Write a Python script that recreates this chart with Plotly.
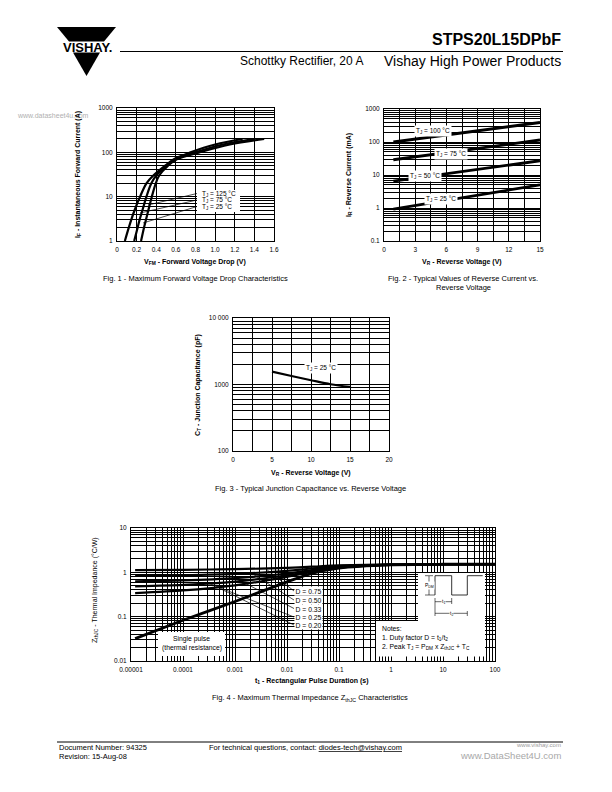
import plotly.graph_objects as go

W, H = 612, 792
FONT = "Liberation Sans, Arial, sans-serif"

# ---------------- data ----------------
# Fig. 1 - forward voltage drop
fig1_current_A = [1, 2, 3, 5, 10, 20, 30, 50, 70, 100, 150, 200]
fig1_vf_125C = [0.08, 0.12, 0.145, 0.18, 0.235, 0.30, 0.37, 0.49, 0.58, 0.75, 1.00, 1.28]
fig1_vf_75C = [0.175, 0.21, 0.23, 0.26, 0.30, 0.35, 0.40, 0.505, 0.595, 0.80, 1.08, 1.40]
fig1_vf_25C = [0.245, 0.275, 0.295, 0.32, 0.355, 0.395, 0.43, 0.52, 0.61, 0.84, 1.15, 1.50]
fig1_x_ticklabels = ["0", "0.2", "0.4", "0.6", "0.8", "1.0", "1.2", "1.4", "1.6"]
fig1_y_ticklabels = ["1", "10", "100", "1000"]

# Fig. 2 - reverse current
fig2_vr = [0.9, 15]
fig2_ir_100C = [100, 390]
fig2_ir_75C = [29, 115]
fig2_ir_50C = [6.5, 27]
fig2_ir_25C = [0.93, 5.0]
fig2_x_ticklabels = ["0", "3", "6", "9", "12", "15"]
fig2_y_ticklabels = ["0.1", "1", "10", "100", "1000"]

# Fig. 3 - junction capacitance
fig3_vr = [5, 7.5, 10, 12.5, 15]
fig3_ct = [1560, 1340, 1160, 1010, 920]
fig3_x_ticklabels = ["0", "5", "10", "15", "20"]
fig3_y_ticklabels = ["100", "1000", "10 000"]

# Fig. 4 - thermal impedance
fig4_t = [1.2e-5, 1e-4, 1e-3, 1e-2, 3e-2, 0.1, 1, 10, 100]
fig4_single = [0.032, 0.083, 0.22, 0.61, 0.95, 1.25, 1.48, 1.52, 1.52]
fig4_d075 = [1.12, 1.14, 1.18, 1.26, 1.34, 1.44, 1.50, 1.52, 1.52]
fig4_d050 = [0.83, 0.86, 0.92, 1.08, 1.22, 1.38, 1.49, 1.52, 1.52]
fig4_d033 = [0.63, 0.66, 0.74, 0.94, 1.12, 1.33, 1.49, 1.52, 1.52]
fig4_d025 = [0.48, 0.52, 0.62, 0.86, 1.06, 1.30, 1.48, 1.52, 1.52]
fig4_d020 = [0.34, 0.39, 0.51, 0.79, 1.02, 1.28, 1.48, 1.52, 1.52]
fig4_d_labels = ["D = 0.75", "D = 0.50", "D = 0.33", "D = 0.25", "D = 0.20"]
fig4_x_ticklabels = ["0.00001", "0.0001", "0.001", "0.01", "0.1", "1", "10", "100"]
fig4_y_ticklabels = ["0.01", "0.1", "1", "10"]


# ---------------- helpers ----------------
def px(x):
    return x / W


def py(y):
    return 1 - y / H


def log_ticks(lo, hi):
    major = [10.0 ** e for e in range(lo, hi + 1)]
    minor = [m * 10.0 ** e for e in range(lo, hi) for m in range(2, 10)]
    return major, minor


def lin_ticks(start, stop, step, label_every):
    n = int(round((stop - start) / step))
    vals = [start + i * step for i in range(n + 1)]
    major = [v for i, v in enumerate(vals) if i % label_every == 0]
    minor = [v for i, v in enumerate(vals) if i % label_every != 0]
    return major, minor


TICKFONT = dict(family=FONT, size=6.5, color="black")


def axis(domain, anchor, ticks, labels, typ="linear", rng=None):
    major, minor = ticks
    return dict(domain=domain, anchor=anchor, type=typ, range=rng,
                tickmode="array", tickvals=major, ticktext=labels,
                showgrid=True, gridcolor="black", gridwidth=1,
                minor=dict(tickmode="array", tickvals=minor, showgrid=True,
                           gridcolor="black", gridwidth=1, ticks=""),
                showline=True, mirror=True, linecolor="black", linewidth=1,
                ticks="", tickfont=TICKFONT, zeroline=False, automargin=False,
                fixedrange=True, ticklabelstandoff=2)


def dom_x(x0, x1):
    return [px(x0), px(x1)]


def dom_y(y0, y1):
    return [py(y1), py(y0)]


fig = go.Figure()

# Fig 1 traces
for v in (fig1_vf_125C, fig1_vf_75C, fig1_vf_25C):
    fig.add_trace(go.Scatter(x=v, y=fig1_current_A, mode="lines",
                             line=dict(color="black", width=2.2, shape="spline"),
                             xaxis="x", yaxis="y", showlegend=False))
# Fig 2 traces
for ir in (fig2_ir_100C, fig2_ir_75C, fig2_ir_50C, fig2_ir_25C):
    fig.add_trace(go.Scatter(x=fig2_vr, y=ir, mode="lines", line=dict(color="black", width=2.8),
                             xaxis="x2", yaxis="y2", showlegend=False))
# Fig 3 trace
fig.add_trace(go.Scatter(x=fig3_vr, y=fig3_ct, mode="lines",
                         line=dict(color="black", width=2.2, shape="spline"),
                         xaxis="x3", yaxis="y3", showlegend=False))
# Fig 4 traces
for z in (fig4_d075, fig4_d050, fig4_d033, fig4_d025, fig4_d020):
    fig.add_trace(go.Scatter(x=fig4_t, y=z, mode="lines",
                             line=dict(color="black", width=2.2, shape="spline", smoothing=0.6),
                             xaxis="x4", yaxis="y4", showlegend=False))
fig.add_trace(go.Scatter(x=fig4_t, y=fig4_single, mode="lines",
                         line=dict(color="black", width=2.8, shape="spline", smoothing=0.6),
                         xaxis="x4", yaxis="y4", showlegend=False))

# axes
xa1 = axis(dom_x(117, 274), "y", lin_ticks(0, 1.6, 0.2, 1), fig1_x_ticklabels, rng=[0, 1.6])
ya1 = axis(dom_y(108, 241), "x", log_ticks(0, 3), fig1_y_ticklabels, "log", [0, 3])
xa2 = axis(dom_x(384, 540), "y2", lin_ticks(0, 15, 1.5, 2), fig2_x_ticklabels, rng=[0, 15])
ya2 = axis(dom_y(109, 241), "x2", log_ticks(-1, 3), fig2_y_ticklabels, "log", [-1, 3])
xa3 = axis(dom_x(233, 389), "y3", lin_ticks(0, 20, 2.5, 2), fig3_x_ticklabels, rng=[0, 20])
ya3 = axis(dom_y(318, 451), "x3", log_ticks(2, 4), fig3_y_ticklabels, "log", [2, 4])
xa4 = axis(dom_x(131, 495), "y4", log_ticks(-5, 2), fig4_x_ticklabels, "log", [-5, 2])
ya4 = axis(dom_y(528, 661), "x4", log_ticks(-2, 1), fig4_y_ticklabels, "log", [-2, 1])

fig.update_layout(
    template="none",
    width=W, height=H, autosize=False,
    margin=dict(l=0, r=0, t=0, b=0, pad=0, autoexpand=False),
    paper_bgcolor="white", plot_bgcolor="white", showlegend=False,
    font=dict(family=FONT, color="black"),
    xaxis=xa1, yaxis=ya1, xaxis2=xa2, yaxis2=ya2,
    xaxis3=xa3, yaxis3=ya3, xaxis4=xa4, yaxis4=ya4,
)

shapes = []
ann = []


def T(x, y, text, size=7.5, xanchor="center", bold=False, color="black", angle=0, bg=None,
      yanchor="middle", pad=1):
    if bold:
        text = "<b>" + text + "</b>"
    d = dict(xref="paper", yref="paper", x=px(x), y=py(y), text=text, showarrow=False,
             font=dict(family=FONT, size=size, color=color), xanchor=xanchor, yanchor=yanchor,
             textangle=angle, borderpad=pad)
    if bg:
        d["bgcolor"] = bg
    ann.append(d)


def L(x0, y0, x1, y1, w=0.8, color="black"):
    shapes.append(dict(type="line", xref="paper", yref="paper", x0=px(x0), y0=py(y0),
                       x1=px(x1), y1=py(y1), line=dict(color=color, width=w), layer="above"))


def R(x0, y0, x1, y1, fill="white"):
    shapes.append(dict(type="rect", xref="paper", yref="paper", x0=px(x0), y0=py(y0),
                       x1=px(x1), y1=py(y1), fillcolor=fill, line=dict(width=0), layer="above"))


def P(points, fill="black"):
    path = "M " + " L ".join(f"{px(a):.5f},{py(b):.5f}" for a, b in points) + " Z"
    shapes.append(dict(type="path", xref="paper", yref="paper", path=path, fillcolor=fill,
                       line=dict(width=0), layer="above"))


# ---------------- header ----------------
P([(57, 27), (116, 27), (104, 41.5), (69, 41.5)])
P([(73, 52.5), (100, 52.5), (86.5, 76)])
T(87, 47, "VISHAY.", size=13, bold=True)
T(563, 40, "STPS20L15DPbF", size=16, xanchor="right", bold=True)
L(120, 51.5, 563, 51.5, w=1)
T(365, 61, "Schottky Rectifier, 20 A", size=12, xanchor="right")
T(563, 61.5, "Vishay High Power Products", size=14, xanchor="right")

# watermark
T(15, 116, "www.datasheet4u.com", size=7, xanchor="left", color="#b0b0b0")

# ---------------- Fig 1 annotations ----------------
R(197, 190, 240, 212)
T(200, 194, "T<sub>J</sub> = 125 °C", size=6.5, xanchor="left")
T(200, 200.5, "T<sub>J</sub> = 75 °C", size=6.5, xanchor="left")
T(200, 207, "T<sub>J</sub> = 25 °C", size=6.5, xanchor="left")
L(197, 193.5, 148, 205, w=0.7)
L(197, 200, 140, 213, w=0.7)
L(197, 206.5, 143, 223, w=0.7)
T(195, 262, "V<sub>FM</sub> - Forward Voltage Drop (V)", size=7, bold=True)
T(78, 175, "I<sub>F</sub> - Instantaneous Forward Current (A)", size=7, bold=True, angle=-90)
T(195, 278, "Fig. 1 - Maximum Forward Voltage Drop Characteristics", size=7.5)

# ---------------- Fig 2 annotations ----------------
T(433, 131, "T<sub>J</sub> = 100 °C", size=6.5, bg="white")
T(451, 154, "T<sub>J</sub> = 75 °C", size=6.5, bg="white")
T(425, 176, "T<sub>J</sub> = 50 °C", size=6.5, bg="white")
T(441, 199, "T<sub>J</sub> = 25 °C", size=6.5, bg="white")
T(462, 262, "V<sub>R</sub> - Reverse Voltage (V)", size=7, bold=True)
T(349, 175, "I<sub>R</sub> - Reverse Current (mA)", size=7, bold=True, angle=-90)
T(463, 278, "Fig. 2 - Typical Values of Reverse Current vs.", size=7.5)
T(463, 287, "Reverse Voltage", size=7.5)

# ---------------- Fig 3 annotations ----------------
T(321, 368, "T<sub>J</sub> = 25 °C", size=6.5, bg="white")
T(311, 473, "V<sub>R</sub> - Reverse Voltage (V)", size=7, bold=True)
T(198, 385, "C<sub>T</sub> - Junction Capacitance (pF)", size=7, bold=True, angle=-90)
T(310, 488, "Fig. 3 - Typical Junction Capacitance vs. Reverse Voltage", size=7.5)

# ---------------- Fig 4 annotations ----------------
label_y = [591, 600, 608.5, 617, 625]
leader_end = [(266, 569), (251, 573), (235, 578), (208, 583), (219, 588)]
for lab, yy, (ex, ey) in zip(fig4_d_labels, label_y, leader_end):
    L(294, yy, ex, ey, w=0.7)
    T(294, yy, lab, size=6.8, xanchor="left", bg="white", pad=0.5)
R(158, 632, 225, 656)
T(191.5, 638.5, "Single pulse", size=6.8)
T(191.5, 647.5, "(thermal resistance)", size=6.8)
# notes + pulse diagram
R(418, 573, 485, 622)
R(376, 621, 485, 656.5)
T(380, 628, "Notes:", size=6.8, xanchor="left")
T(380, 638, "1. Duty factor D = t<sub>1</sub>/t<sub>2</sub>", size=6.8, xanchor="left")
T(380, 647, "2. Peak T<sub>J</sub> = P<sub>DM</sub> x Z<sub>thJC</sub> + T<sub>C</sub>", size=6.8, xanchor="left")
# pulse waveform
L(435, 595, 435, 575.7)
L(435, 575.7, 451.7, 575.7)
L(451.7, 575.7, 451.7, 595)
L(451.7, 595, 467.3, 595)
L(467.3, 595, 467.3, 575.7)
L(467.3, 575.7, 482.7, 575.7)
L(425, 575.7, 433, 575.7, w=0.6)
L(425, 595, 435, 595, w=0.6)
L(429, 576, 429, 595, w=0.6)
T(429.3, 585.5, "P<sub>DM</sub>", size=5, bg="white", pad=0)
L(435, 601.7, 451.7, 601.7, w=0.6)
L(435, 598, 435, 616, w=0.6)
L(451.7, 598, 451.7, 604, w=0.6)
T(443.3, 601.2, "t<sub>1</sub>", size=5, bg="white", pad=0)
L(435, 613.3, 467.3, 613.3, w=0.6)
L(467.3, 611, 467.3, 616, w=0.6)
T(451, 613, "t<sub>2</sub>", size=5, bg="white", pad=0)

T(312, 681, "t<sub>1</sub> - Rectangular Pulse Duration (s)", size=7, bold=True)
T(95, 590, "Z<sub>thJC</sub> - Thermal Impedance (°C/W)", size=7, angle=-90)
T(310, 698, "Fig. 4 - Maximum Thermal Impedance Z<sub>thJC</sub> Characteristics", size=7.5)

# ---------------- footer ----------------
L(57, 742, 563, 742, w=1)
T(57, 747.5, "Document Number: 94325", size=7.5, xanchor="left")
T(57, 756.5, "Revision: 15-Aug-08", size=7.5, xanchor="left")
T(207, 747.5, "For technical questions, contact: <u>diodes-tech@vishay.com</u>", size=7.5, xanchor="left")
T(563, 744.5, "www.vishay.com", size=6, xanchor="right", color="#9a9a9a")
T(563, 755, "www.DataSheet4U.com", size=9.5, xanchor="right", color="#a8a8a8")

fig.update_layout(shapes=shapes, annotations=ann)
fig.write_html("out.html", config={"displayModeBar": False, "responsive": False},
               post_script="document.body.style.margin='0';")
